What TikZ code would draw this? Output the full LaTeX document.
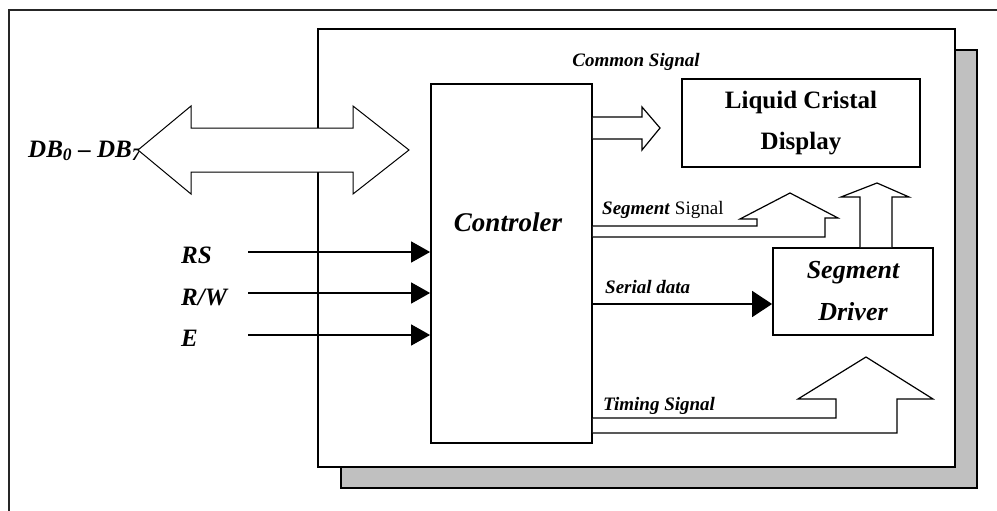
\documentclass[tikz,border=0pt]{standalone}
\usepackage{fontspec}
\setmainfont{Liberation Serif}
\usetikzlibrary{arrows.meta,calc}
\definecolor{shadowgray}{HTML}{C0C0C0}

\begin{document}
\begin{tikzpicture}[x=1pt,y=-1pt,
  box/.style={draw,line width=1.8pt,fill=white,inner sep=0pt},
  blockarrow/.style={draw,line width=1.2pt,fill=white,line join=miter},
  sig/.style={line width=1.5pt,-{Triangle[length=19pt,width=21pt]}},
  labbig/.style={font=\fontsize{25}{30}\selectfont\bfseries\itshape,inner sep=0pt},
  labsmall/.style={font=\fontsize{19}{23}\selectfont\bfseries\itshape,inner sep=0pt},
]
\useasboundingbox (0,0) rectangle (997,511);

% outer frame, running off the page at right and bottom
\draw[line width=2pt,black!85] (9,511) -- (9,10) -- (997,10);

% board with its drop shadow
\node[draw,line width=2pt,fill=shadowgray,inner sep=0pt,
      minimum width=636pt,minimum height=438pt] (shadow) at (659,269) {};
\node[draw,line width=2.5pt,fill=white,inner sep=0pt,
      minimum width=637pt,minimum height=438pt] (board) at (636.5,248) {};

% functional blocks
\node[box,minimum width=161pt,minimum height=359pt] (ctrl) at (511.5,263.5) {};
\node[labbig,font=\fontsize{27}{32}\selectfont\bfseries\itshape] (ctrltext) at (508,222) {Controler};
\node[box,minimum width=238pt,minimum height=88pt,
      font=\fontsize{25}{41}\selectfont\bfseries,align=center] (lcd) at (801,123)
      {Liquid Cristal\\Display};
\node[box,minimum width=160pt,minimum height=87pt,
      font=\fontsize{26}{42}\selectfont\bfseries\itshape,align=center] (drv) at (853,291.5)
      {Segment\\Driver};

% data bus label and bidirectional bus arrow
\node[labbig,anchor=west] (dblab) at (28,151) {DB\textsubscript{0} -- DB\textsubscript{7}};
\draw[blockarrow,line width=1pt] (138,150) -- (191,106) -- (191,128) -- (353,128) -- (353,106)
  -- (409,150) -- (353,194) -- (353,172) -- (191,172) -- (191,194) -- cycle;

% control inputs
\coordinate (rsin) at (248,252);
\coordinate (rwin) at (248,293);
\coordinate (enin) at (248,335);
\node[labbig,anchor=west] (rslab) at (181,255) {RS};
\node[labbig,anchor=west] (rwlab) at (181,297) {R/W};
\node[labbig,anchor=west] (enlab) at (181,338) {E};
\draw[sig] (rsin) -- (rsin -| ctrl.west);
\draw[sig] (rwin) -- (rwin -| ctrl.west);
\draw[sig] (enin) -- (enin -| ctrl.west);

% common signal to the display
\node[labsmall] (comlab) at (636,62) {Common Signal};
\draw[blockarrow] (ctrl.east |- 0,117) -- (642,117) -- (642,107) -- (660,128)
  -- (642,150) -- (642,139) -- (ctrl.east |- 0,139);

% segment signal
\node[inner sep=0pt,font=\fontsize{19}{23}\selectfont,anchor=west] (seglab) at (602,210)
  {\textbf{\textit{Segment}} Signal};
\draw[blockarrow] (ctrl.east |- 0,226) -- (757,226) -- (757,219) -- (740,219) -- (790,193)
  -- (838,218) -- (825,218) -- (825,237) -- (ctrl.east |- 0,237);

% segment driver output to the display
\draw[blockarrow] (drv.north -| 860,0) -- (860,197) -- (841,197) -- (877,183)
  -- (909,197) -- (892,197) -- (drv.north -| 892,0);

% serial data
\coordinate (sd) at (600,304);
\node[labsmall,anchor=west] (sdlab) at (605,287) {Serial data};
\draw[line width=1.5pt,-{Triangle[length=20pt,width=26pt]}] (ctrl.east |- sd) -- (drv.west |- sd);

% timing signal
\node[labsmall,anchor=west] (timlab) at (603,406) {Timing Signal};
\draw[blockarrow] (ctrl.east |- 0,418) -- (836,418) -- (836,399) -- (798,399) -- (866,357)
  -- (933,399) -- (897,399) -- (897,433) -- (ctrl.east |- 0,433);
\end{tikzpicture}
\end{document}
